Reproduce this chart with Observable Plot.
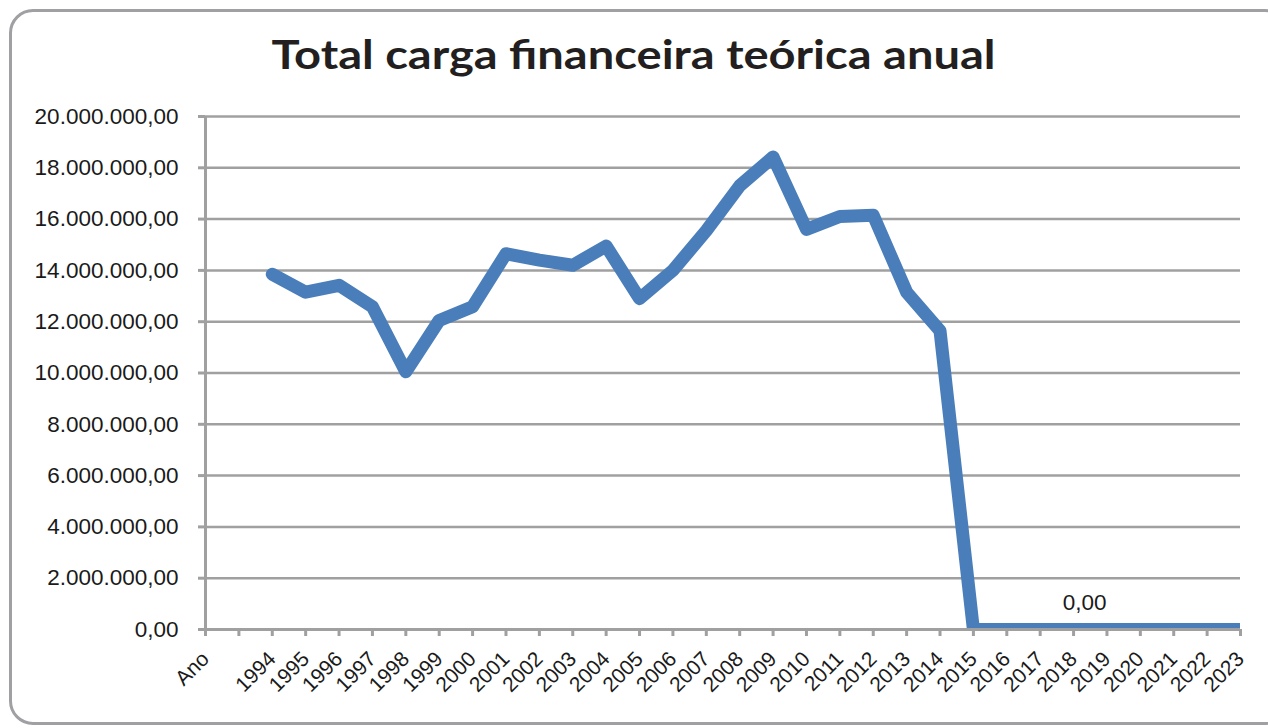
<!DOCTYPE html>
<html><head><meta charset="utf-8">
<script src="https://cdn.jsdelivr.net/npm/d3@7"></script>
<script src="https://cdn.jsdelivr.net/npm/@observablehq/plot@0.6"></script>
<style>
body{margin:0;background:#fff;}
#wrap{position:relative;width:1268px;height:728px;overflow:hidden;background:#fff;}
#frame{position:absolute;left:9px;top:9px;width:1280px;height:716px;border:3px solid #a0a0a4;border-radius:24px;box-sizing:border-box;}
#title{position:absolute;top:29px;left:0;width:1268px;text-align:center;font-family:Lato,'Open Sans',sans-serif;font-weight:bold;font-size:41px;line-height:normal;color:#231f20;white-space:nowrap;}
#tt{display:inline-block;transform-origin:center;}
#chart{position:absolute;left:0;top:0;}
</style></head>
<body><div id="wrap"><div id="frame"></div><div id="chart"></div><div id="title"><span id="tt">Total carga financeira teórica anual</span></div></div>
<script>
const categories = ["Ano", "", "1994", "1995", "1996", "1997", "1998", "1999", "2000", "2001", "2002", "2003", "2004", "2005", "2006", "2007", "2008", "2009", "2010", "2011", "2012", "2013", "2014", "2015", "2016", "2017", "2018", "2019", "2020", "2021", "2022", "2023"];
const years = ["1994", "1995", "1996", "1997", "1998", "1999", "2000", "2001", "2002", "2003", "2004", "2005", "2006", "2007", "2008", "2009", "2010", "2011", "2012", "2013", "2014", "2015", "2016", "2017", "2018", "2019", "2020", "2021", "2022", "2023"];
const values = [13850000, 13150000, 13420000, 12580000, 10050000, 12050000, 12580000, 14650000, 14400000, 14200000, 14950000, 12900000, 14000000, 15550000, 17300000, 18420000, 15600000, 16100000, 16150000, 13150000, 11650000, 0, 0, 0, 0, 0, 0, 0, 0, 0];
const yTicks = [0, 2000000, 4000000, 6000000, 8000000, 10000000, 12000000, 14000000, 16000000, 18000000, 20000000];
const labelYears = ["2018"];
const labelValues = [0];

const fmt = d3.formatLocale({decimal: ",", thousands: ".", grouping: [3], currency: ["", ""]}).format(",.2f");
const data = years.map((y, i) => ({year: y, value: values[i]}));
const labels = labelYears.map((y, i) => ({year: y, value: labelValues[i]}));

const grid = "#a0a0a0";
const plot = Plot.plot({
  width: 1268, height: 728,
  marginLeft: 205, marginRight: 28, marginTop: 116, marginBottom: 99,
  style: {fontFamily: "'Liberation Sans', Arial, sans-serif", background: "transparent", overflow: "visible", color: "#1a1a1a"},
  x: {type: "point", domain: categories, padding: 0, round: false, label: null},
  y: {domain: [0, 20000000], label: null},
  marks: [
    Plot.gridY(yTicks, {stroke: grid, strokeWidth: 2.5, strokeOpacity: 1}),
    Plot.line(data, {x: "year", y: "value", stroke: "#4a7ebb", strokeWidth: 13, strokeLinejoin: "round", strokeLinecap: "round", clip: true}),
    Plot.ruleX([categories[0]], {stroke: grid, strokeWidth: 3}),
    Plot.ruleY([0], {stroke: grid, strokeWidth: 3}),
    Plot.axisY(yTicks, {tickFormat: fmt, tickSize: 7, tickPadding: 20, fontSize: 22.5, stroke: grid, strokeWidth: 3, fill: "#1a1a1a", label: null}),
    Plot.axisX({tickSize: 7, tickPadding: 19, tickRotate: -45, fontSize: 21, stroke: grid, strokeWidth: 3, fill: "#1a1a1a", label: null}),
    Plot.text(labels, {x: "year", y: "value", text: d => fmt(d.value), dx: 11, dy: -27, fontSize: 22.5, fill: "#1a1a1a"})
  ]
});
document.getElementById("chart").appendChild(plot);
const tt = document.getElementById("tt");
const w = tt.getBoundingClientRect().width;
tt.style.transform = `scaleX(${724 / w})`;
</script>
</body></html>
